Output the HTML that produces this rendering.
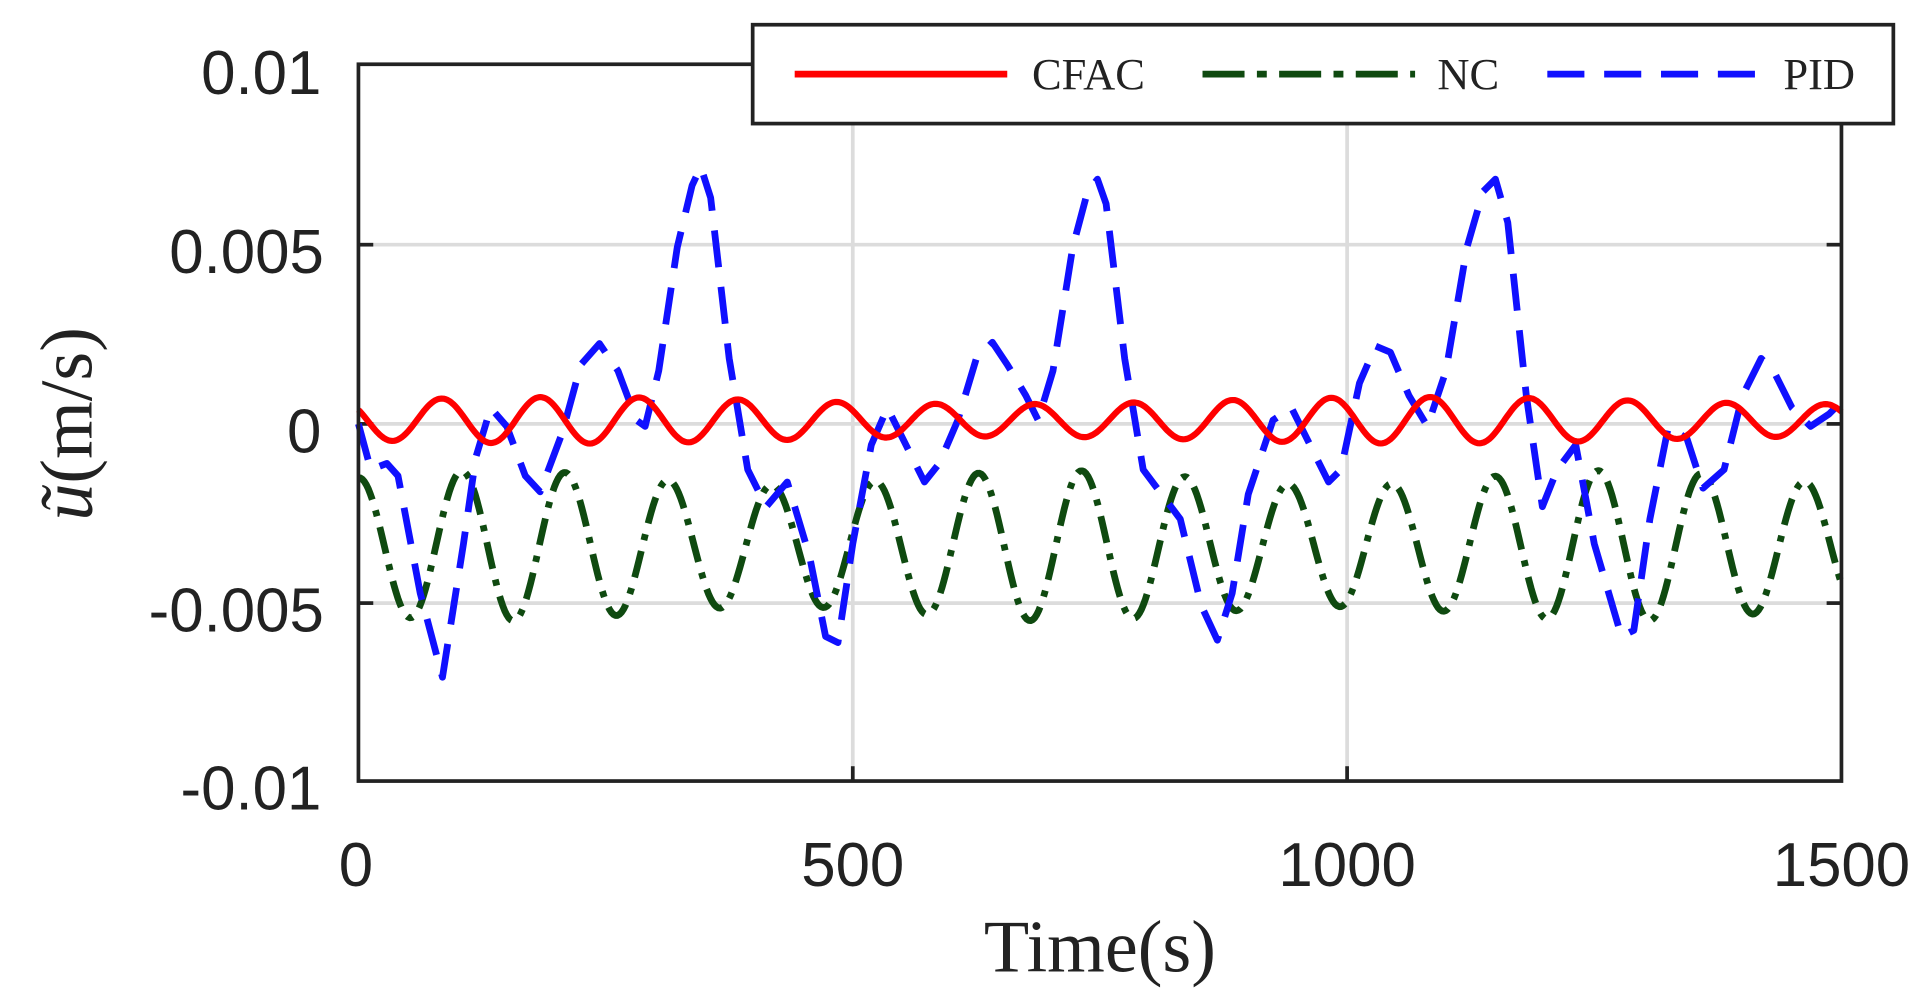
<!DOCTYPE html>
<html><head><meta charset="utf-8"><style>
html,body{margin:0;padding:0;background:#fff;}
svg{display:block;}
</style></head><body>
<svg id="s" width="1928" height="1004" viewBox="0 0 1560 812.4" xmlns="http://www.w3.org/2000/svg">
<rect x="0" y="0" width="1560" height="812.4" fill="#fff"/>
<g stroke="#dcdcdc" stroke-width="3">
<line x1="690" y1="52" x2="690" y2="632"/><line x1="1090" y1="52" x2="1090" y2="632"/>
<line x1="290" y1="198" x2="1490" y2="198"/><line x1="290" y1="343" x2="1490" y2="343"/><line x1="290" y1="488" x2="1490" y2="488"/>
</g>
<g stroke="#222" stroke-width="3">
<line x1="290" y1="198" x2="302" y2="198"/><line x1="290" y1="343" x2="302" y2="343"/><line x1="290" y1="488" x2="302" y2="488"/>
<line x1="1478" y1="198" x2="1490" y2="198"/><line x1="1478" y1="343" x2="1490" y2="343"/><line x1="1478" y1="488" x2="1490" y2="488"/>
<line x1="690" y1="632" x2="690" y2="620"/><line x1="1090" y1="632" x2="1090" y2="620"/>
<line x1="690" y1="52" x2="690" y2="64"/><line x1="1090" y1="52" x2="1090" y2="64"/>
</g>
<g fill="none" stroke-linejoin="round">
<path id="nc" stroke="#0f4a10" stroke-width="5.5" stroke-dasharray="22 9 5 9"/>
<polyline stroke="#1010ff" stroke-width="5.5" stroke-dasharray="30 16" points="290,343 300,380 313,375 322,385 340,480 358,548 375,440 385,370 397,330 410,345 425,385 437,398 455,350 470,295 485,278 500,300 515,340 522,345 533,300 548,200 560,150 567,135 575,160 590,290 605,380 620,410 637,390 655,450 668,515 678,520 690,440 705,360 718,330 733,360 748,390 760,375 775,340 790,290 803,277 815,295 830,320 840,340 852,300 868,200 880,155 888,145 895,165 910,290 925,380 940,400 955,420 972,490 985,518 997,480 1010,400 1030,340 1045,330 1060,360 1075,390 1085,380 1100,310 1113,280 1125,285 1140,320 1155,345 1170,300 1187,200 1200,155 1210,145 1220,180 1235,320 1248,410 1260,380 1275,360 1290,440 1312,515 1322,510 1335,420 1350,345 1365,355 1378,395 1395,380 1410,320 1425,290 1435,300 1450,330 1465,345 1480,335 1490,325"/>
<path id="cf" stroke="#ff0000" stroke-width="5"/>
</g>
<rect x="290" y="52" width="1200" height="580" fill="none" stroke="#222" stroke-width="3"/>
<g font-family="Liberation Sans, sans-serif" font-size="50" fill="#222">
<g text-anchor="end">
<text x="260" y="76">0.01</text><text x="262" y="221">0.005</text><text x="260" y="366">0</text><text x="262" y="511">-0.005</text><text x="260" y="655">-0.01</text>
</g>
<g text-anchor="middle">
<text x="288" y="717">0</text><text x="690" y="717">500</text><text x="1090" y="717">1000</text><text x="1490" y="717">1500</text>
</g>
</g>
<text x="890" y="786" text-anchor="middle" font-family="Liberation Serif, serif" font-size="60" fill="#222">Time(s)</text>
<text transform="translate(74,343) rotate(-90)" text-anchor="middle" font-family="Liberation Serif, serif" font-size="60" fill="#222"><tspan font-style="italic">ũ</tspan>(m/s)</text>
<rect x="609" y="20" width="923" height="80" fill="#fff" stroke="#222" stroke-width="3"/>
<line x1="643" y1="60" x2="815" y2="60" stroke="#ff0000" stroke-width="5.5"/>
<line x1="973" y1="60" x2="1145" y2="60" stroke="#0f4a10" stroke-width="5.5" stroke-dasharray="34 10 8 10"/>
<line x1="1252" y1="60" x2="1425" y2="60" stroke="#1010ff" stroke-width="5.5" stroke-dasharray="30 16"/>
<g font-family="Liberation Serif, serif" font-size="36" fill="#222">
<text x="835" y="72">CFAC</text><text x="1163" y="72">NC</text><text x="1443" y="72">PID</text>
</g>
</svg>
<script>
function X(t){return 290+t*0.8;}
var c="",n="";
for(var t=0;t<=1500;t+=2){
 var a=0.00055+0.0001*Math.sin(t/137);
 var v=0.0001+a*Math.sin(2*Math.PI*(t-59)/100);
 c+=(t?"L":"M")+X(t).toFixed(1)+","+(343-v*29000).toFixed(1);
 var amp=0.0019+0.0002*Math.sin(t/90);
 var w=-0.0034+amp*Math.cos(2*Math.PI*t/104.5);
 n+=(t?"L":"M")+X(t).toFixed(1)+","+(343-w*29000).toFixed(1);
}
document.getElementById("cf").setAttribute("d",c);
document.getElementById("nc").setAttribute("d",n);
</script>
</body></html>
